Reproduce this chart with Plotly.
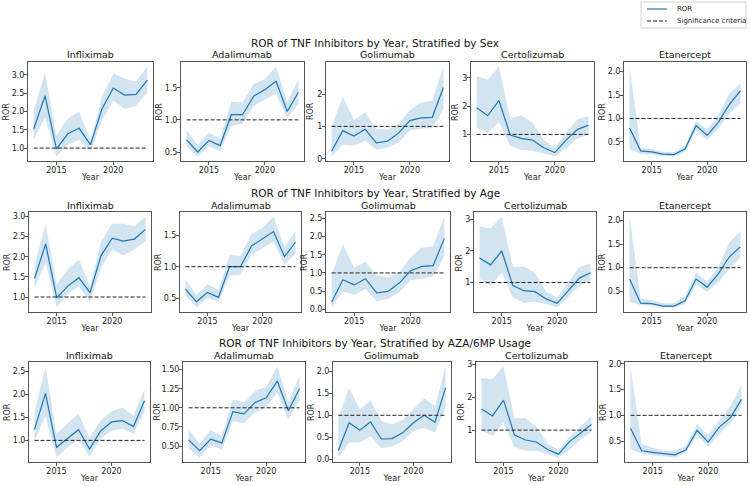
import plotly.graph_objects as go

YEARS = list(range(2013, 2024))
DRUGS = ["Infliximab", "Adalimumab", "Golimumab", "Certolizumab", "Etanercept"]
ROW_TITLES = [
    "ROR of TNF Inhibitors by Year, Stratified by Sex",
    "ROR of TNF Inhibitors by Year, Stratified by Age",
    "ROR of TNF Inhibitors by Year, Stratified by AZA/6MP Usage",
]
LEGEND_LABELS = ["ROR", "Significance criteria"]
X_LABEL = "Year"
Y_LABEL = "ROR"
SIGNIFICANCE = 1.0

# ---- Stratified by Sex ----
SEX_INF = [1.52, 2.43, 0.98, 1.39, 1.54, 1.09, 2.06, 2.64, 2.45, 2.47, 2.86]
SEX_INF_LO = [1.23, 1.82, 0.77, 1.09, 1.23, 0.90, 1.74, 2.30, 2.07, 2.16, 2.52]
SEX_INF_HI = [2.02, 3.07, 1.34, 1.81, 2.00, 1.20, 2.39, 3.04, 2.90, 2.81, 3.23]
SEX_ADA = [0.69, 0.50, 0.68, 0.60, 1.08, 1.08, 1.37, 1.47, 1.60, 1.13, 1.43]
SEX_ADA_LO = [0.59, 0.43, 0.59, 0.51, 0.91, 0.94, 1.22, 1.31, 1.41, 1.02, 1.25]
SEX_ADA_HI = [0.84, 0.61, 0.80, 0.71, 1.28, 1.27, 1.56, 1.63, 1.83, 1.28, 1.62]
SEX_GOL = [0.23, 0.87, 0.70, 0.91, 0.49, 0.54, 0.80, 1.18, 1.26, 1.28, 2.20]
SEX_GOL_LO = [0.07, 0.43, 0.41, 0.56, 0.28, 0.34, 0.51, 0.87, 0.93, 0.95, 1.54]
SEX_GOL_HI = [1.00, 1.92, 1.20, 1.44, 0.93, 0.90, 1.08, 1.51, 1.74, 1.80, 2.85]
SEX_CER = [1.94, 1.66, 2.20, 0.98, 0.86, 0.80, 0.53, 0.36, 0.80, 1.17, 1.33]
SEX_CER_LO = [1.25, 1.04, 1.44, 0.59, 0.45, 0.42, 0.33, 0.22, 0.51, 0.86, 0.98]
SEX_CER_HI = [3.06, 2.93, 3.40, 1.56, 1.68, 1.41, 0.80, 0.55, 1.04, 1.53, 1.64]
SEX_ETA = [0.80, 0.31, 0.29, 0.24, 0.23, 0.35, 0.85, 0.64, 0.92, 1.30, 1.59]
SEX_ETA_LO = [0.35, 0.24, 0.24, 0.20, 0.19, 0.28, 0.74, 0.54, 0.78, 1.10, 1.32]
SEX_ETA_HI = [2.11, 0.38, 0.35, 0.29, 0.28, 0.42, 0.96, 0.76, 1.07, 1.53, 1.75]

# ---- Stratified by Age ----
AGE_INF = [1.46, 2.32, 0.98, 1.27, 1.48, 1.11, 2.03, 2.46, 2.39, 2.44, 2.68]
AGE_INF_LO = [1.22, 1.86, 0.74, 1.09, 1.26, 0.88, 1.74, 2.18, 2.03, 2.18, 2.38]
AGE_INF_HI = [1.82, 2.80, 1.31, 1.69, 1.93, 1.26, 2.38, 2.82, 2.82, 2.76, 3.00]
AGE_ADA = [0.64, 0.44, 0.59, 0.51, 1.00, 1.00, 1.33, 1.44, 1.56, 1.16, 1.39]
AGE_ADA_LO = [0.55, 0.35, 0.50, 0.44, 0.86, 0.87, 1.19, 1.30, 1.40, 1.03, 1.21]
AGE_ADA_HI = [0.79, 0.55, 0.72, 0.63, 1.19, 1.17, 1.52, 1.62, 1.80, 1.32, 1.57]
AGE_GOL = [0.20, 0.81, 0.67, 0.84, 0.45, 0.49, 0.72, 1.06, 1.18, 1.20, 1.95]
AGE_GOL_LO = [0.05, 0.49, 0.40, 0.56, 0.22, 0.29, 0.47, 0.79, 0.84, 0.91, 1.45]
AGE_GOL_HI = [0.97, 1.79, 1.14, 1.31, 0.93, 0.88, 1.02, 1.43, 1.70, 1.72, 2.55]
AGE_CER = [1.78, 1.56, 2.00, 0.90, 0.74, 0.71, 0.48, 0.34, 0.74, 1.14, 1.31]
AGE_CER_LO = [1.12, 0.90, 1.31, 0.53, 0.35, 0.39, 0.32, 0.21, 0.53, 0.90, 1.06]
AGE_CER_HI = [2.77, 2.72, 3.09, 1.49, 1.51, 1.31, 0.71, 0.53, 1.01, 1.49, 1.60]
AGE_ETA = [0.76, 0.25, 0.24, 0.19, 0.19, 0.30, 0.76, 0.59, 0.87, 1.23, 1.44]
AGE_ETA_LO = [0.28, 0.21, 0.20, 0.16, 0.16, 0.23, 0.65, 0.49, 0.69, 0.97, 1.22]
AGE_ETA_HI = [2.08, 0.35, 0.32, 0.25, 0.25, 0.39, 0.90, 0.71, 1.01, 1.53, 1.77]

# ---- Stratified by AZA/6MP usage ----
AZA_INF = [1.24, 2.02, 0.85, 1.05, 1.23, 0.81, 1.20, 1.40, 1.43, 1.30, 1.86]
AZA_INF_LO = [0.99, 1.52, 0.63, 0.85, 1.03, 0.64, 1.03, 1.21, 1.25, 1.14, 1.62]
AZA_INF_HI = [1.62, 2.60, 1.14, 1.35, 1.58, 1.05, 1.43, 1.63, 1.71, 1.54, 2.11]
AZA_ADA = [0.58, 0.44, 0.59, 0.54, 0.95, 0.92, 1.07, 1.13, 1.35, 0.96, 1.25]
AZA_ADA_LO = [0.47, 0.35, 0.51, 0.45, 0.82, 0.80, 0.94, 1.01, 1.20, 0.85, 1.10]
AZA_ADA_HI = [0.72, 0.53, 0.71, 0.63, 1.11, 1.07, 1.22, 1.28, 1.54, 1.08, 1.42]
AZA_GOL = [0.20, 0.83, 0.66, 0.85, 0.46, 0.47, 0.60, 0.83, 1.00, 0.84, 1.63]
AZA_GOL_LO = [0.04, 0.38, 0.38, 0.52, 0.25, 0.29, 0.41, 0.64, 0.71, 0.61, 1.17]
AZA_GOL_HI = [0.94, 1.63, 1.13, 1.34, 0.87, 0.79, 0.89, 1.13, 1.38, 1.21, 2.11]
AZA_CER = [1.64, 1.43, 1.91, 0.85, 0.70, 0.64, 0.41, 0.27, 0.65, 0.90, 1.17]
AZA_CER_LO = [1.00, 0.82, 1.22, 0.49, 0.37, 0.37, 0.27, 0.17, 0.41, 0.70, 0.95]
AZA_CER_HI = [2.58, 2.55, 2.93, 1.36, 1.36, 1.10, 0.60, 0.39, 0.80, 1.10, 1.43]
AZA_ETA = [0.75, 0.31, 0.28, 0.25, 0.23, 0.33, 0.71, 0.48, 0.77, 0.95, 1.31]
AZA_ETA_LO = [0.35, 0.25, 0.22, 0.20, 0.18, 0.28, 0.61, 0.39, 0.64, 0.84, 1.16]
AZA_ETA_HI = [1.95, 0.44, 0.37, 0.31, 0.31, 0.41, 0.82, 0.61, 0.90, 1.18, 1.59]

PANELS = [
    [(SEX_INF, SEX_INF_LO, SEX_INF_HI), (SEX_ADA, SEX_ADA_LO, SEX_ADA_HI),
     (SEX_GOL, SEX_GOL_LO, SEX_GOL_HI), (SEX_CER, SEX_CER_LO, SEX_CER_HI),
     (SEX_ETA, SEX_ETA_LO, SEX_ETA_HI)],
    [(AGE_INF, AGE_INF_LO, AGE_INF_HI), (AGE_ADA, AGE_ADA_LO, AGE_ADA_HI),
     (AGE_GOL, AGE_GOL_LO, AGE_GOL_HI), (AGE_CER, AGE_CER_LO, AGE_CER_HI),
     (AGE_ETA, AGE_ETA_LO, AGE_ETA_HI)],
    [(AZA_INF, AZA_INF_LO, AZA_INF_HI), (AZA_ADA, AZA_ADA_LO, AZA_ADA_HI),
     (AZA_GOL, AZA_GOL_LO, AZA_GOL_HI), (AZA_CER, AZA_CER_LO, AZA_CER_HI),
     (AZA_ETA, AZA_ETA_LO, AZA_ETA_HI)],
]

# ---- layout (pixel boxes of each panel) ----
W, H = 750, 486
COL_X = [
    [(28, 153), (181, 304), (326, 449), (471, 594), (624, 746)],
    [(29, 151), (180, 301), (326, 450), (474, 596), (624, 746)],
    [(29, 150), (183, 305), (333, 451), (476, 597), (625, 747)],
]
ROW_Y = [(62, 161), (212, 312), (362, 462)]
Y_DTICK = [
    [0.5, 0.5, 1, 1, 0.5],
    [0.5, 0.5, 0.5, 1, 0.5],
    [0.5, 0.25, 0.5, 1, 0.5],
]
YLABEL_OFFSET = {0.25: 26.5, 0.5: 22, 1: 15.5}
BLUE = "#1f77b4"
BAND = "rgba(31,119,180,0.2)"
SPINE = "#555555"
TXT = "#222222"
FONT = "DejaVu Sans"


def px(x):
    return x / W


def py(y):
    return 1 - y / H


fig = go.Figure()
annotations = []
shapes = []
layout = {}

for r in range(3):
    top, bottom = ROW_Y[r]
    annotations.append(dict(text=ROW_TITLES[r], x=0.5, y=py(top - 19),
                            xref="paper", yref="paper", showarrow=False,
                            xanchor="center", yanchor="middle",
                            font=dict(size=10.5, color="#111", family=FONT)))
    for c in range(5):
        idx = r * 5 + c + 1
        sfx = "" if idx == 1 else str(idx)
        xa, ya = "x" + sfx, "y" + sfx
        left, right = COL_X[r][c]
        ror, lo, hi = PANELS[r][c]

        fig.add_trace(go.Scatter(x=YEARS, y=lo, mode="lines", line=dict(width=0),
                                 showlegend=False, hoverinfo="skip", xaxis=xa, yaxis=ya))
        fig.add_trace(go.Scatter(x=YEARS, y=hi, mode="lines", line=dict(width=0),
                                 fill="tonexty", fillcolor=BAND, showlegend=False,
                                 hoverinfo="skip", xaxis=xa, yaxis=ya))
        fig.add_trace(go.Scatter(x=YEARS, y=ror, mode="lines", name=LEGEND_LABELS[0],
                                 line=dict(color=BLUE, width=1.2), showlegend=False,
                                 xaxis=xa, yaxis=ya))
        fig.add_trace(go.Scatter(x=[YEARS[0], YEARS[-1]], y=[SIGNIFICANCE, SIGNIFICANCE],
                                 mode="lines", name=LEGEND_LABELS[1],
                                 line=dict(color=TXT, width=1, dash="4px,2px"),
                                 showlegend=False, xaxis=xa, yaxis=ya))

        ymin = min(lo + [SIGNIFICANCE])
        ymax = max(hi + [SIGNIFICANCE])
        pad = 0.05 * (ymax - ymin)
        dt = Y_DTICK[r][c]
        fmt = ".2f" if dt == 0.25 else (".1f" if dt == 0.5 else "d")

        common = dict(showline=True, mirror=True, linecolor=SPINE, linewidth=1,
                      ticks="outside", ticklen=3, tickwidth=1, tickcolor=SPINE,
                      showgrid=False, zeroline=False, automargin=False,
                      ticklabelstandoff=-2,
                      tickfont=dict(size=8, color=TXT, family=FONT))
        layout["xaxis" + sfx] = dict(domain=[px(left), px(right)], anchor=ya,
                                     range=[YEARS[0] - 0.5, YEARS[-1] + 0.5],
                                     tick0=2015, dtick=5,
                                     title=dict(text=X_LABEL, standoff=0,
                                                font=dict(size=8, color=TXT, family=FONT)),
                                     **common)
        layout["yaxis" + sfx] = dict(domain=[py(bottom), py(top)], anchor=xa,
                                     range=[ymin - pad, ymax + pad],
                                     tick0=0, dtick=dt, tickformat=fmt,
                                     **common)
        annotations.append(dict(text=Y_LABEL, textangle=-90,
                                x=px(left - YLABEL_OFFSET[dt]), y=py((top + bottom) / 2),
                                xref="paper", yref="paper", showarrow=False,
                                xanchor="center", yanchor="middle",
                                font=dict(size=8, color=TXT, family=FONT)))
        annotations.append(dict(text=DRUGS[c], x=px((left + right) / 2),
                                y=py(top - 7), xref="paper", yref="paper",
                                showarrow=False, xanchor="center", yanchor="middle",
                                font=dict(size=9.5, color="#111", family=FONT)))

# ---- legend box (top right), drawn in paper space ----
shapes.append(dict(type="rect", xref="paper", yref="paper",
                   x0=px(641), x1=px(746), y0=py(28), y1=py(2),
                   line=dict(color="#d0d0d0", width=1), fillcolor="rgba(255,255,255,0.8)"))
shapes.append(dict(type="line", xref="paper", yref="paper",
                   x0=px(647), x1=px(667), y0=py(9), y1=py(9),
                   line=dict(color=BLUE, width=1.2)))
shapes.append(dict(type="line", xref="paper", yref="paper",
                   x0=px(647), x1=px(667), y0=py(21), y1=py(21),
                   line=dict(color=TXT, width=1, dash="4px,2px")))
annotations.append(dict(text=LEGEND_LABELS[0], x=px(675), y=py(9), xref="paper", yref="paper",
                        showarrow=False, xanchor="left", yanchor="middle",
                        font=dict(size=7, color=TXT, family=FONT)))
annotations.append(dict(text=LEGEND_LABELS[1], x=px(675), y=py(21), xref="paper", yref="paper",
                        showarrow=False, xanchor="left", yanchor="middle",
                        font=dict(size=7, color=TXT, family=FONT)))

fig.update_layout(
    width=W, height=H,
    margin=dict(l=0, r=0, t=0, b=0),
    paper_bgcolor="white", plot_bgcolor="white",
    font=dict(family=FONT),
    annotations=annotations,
    shapes=shapes,
    showlegend=False,
    **layout,
)

fig.write_html("out.html", config={"displayModeBar": False},
               post_script="document.body.style.margin='0px';")
